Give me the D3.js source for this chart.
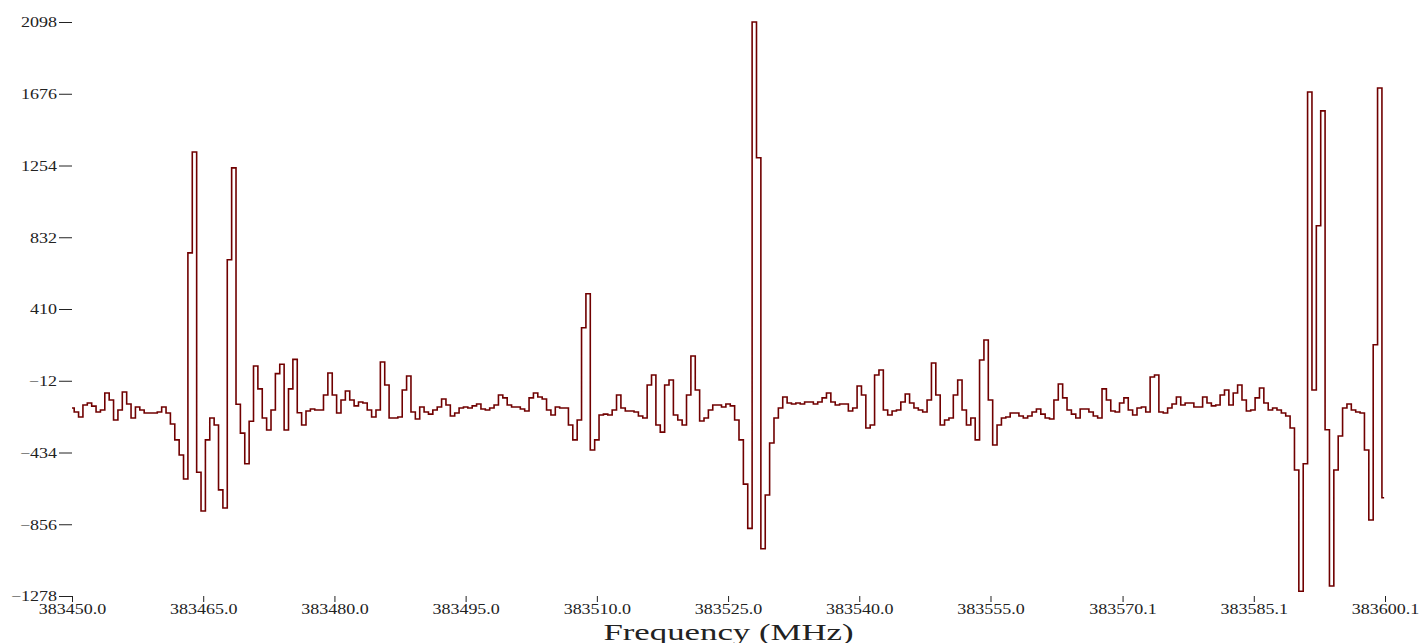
<!DOCTYPE html>
<html>
<head>
<meta charset="utf-8">
<script src="https://cdn.jsdelivr.net/npm/d3@7"></script>
<style>
  body { margin: 0; background: #fff; }
  svg text { font-family: "Liberation Serif", "Times New Roman", serif; fill: #222; }
</style>
</head>
<body>
<div id="chart"></div>
<script>
// spectrum samples, 0.5 MHz apart starting at freqStart
const freqStart = 383450.0;
const freqStep = 0.5;
const amplitudes = [
  -172, -196, -225, -155, -143, -161, -196, -184, -84, -125,
  -243, -184, -78, -149, -231, -166, -184, -202, -202, -202,
  -196, -166, -202, -266, -360, -449, -590, 740, 1333, -550,
  -778, -360, -231, -272, -654, -760, 700, 1240, -150, -320,
  -500, -250, 75, -60, -231, -302, -184, 30, 85, -302,
  -60, 114, -200, -272, -190, -178, -184, -184, -96, 34,
  -96, -202, -125, -72, -125, -160, -137, -143, -184, -225,
  -184, 98, -37, -231, -231, -225, -66, 16, -196, -237,
  -166, -196, -208, -184, -166, -119, -155, -219, -202, -172,
  -166, -172, -160, -149, -178, -184, -172, -155, -96, -113,
  -155, -166, -166, -178, -190, -113, -84, -108, -119, -184,
  -213, -166, -172, -172, -272, -360, -243, 300, 500, -419,
  -360, -213, -208, -213, -184, -96, -172, -190, -190, -196,
  -219, -231, -37, 22, -272, -314, -37, -8, -213, -243,
  -272, -96, 134, -66, -249, -231, -184, -155, -155, -166,
  -149, -160, -243, -360, -620, -880, 2098, 1300, -1000, -684,
  -378, -231, -172, -108, -143, -149, -143, -149, -137, -137,
  -149, -137, -113, -84, -137, -155, -149, -149, -190, -172,
  -43, -96, -290, -272, 22, 51, -184, -213, -190, -184,
  -137, -90, -143, -172, -184, -196, -125, 92, -96, -272,
  -243, -231, -96, -8, -184, -272, -231, -360, 110, 228,
  -125, -390, -272, -231, -225, -202, -202, -219, -231, -219,
  -196, -178, -208, -231, -237, -125, -31, -113, -184, -208,
  -231, -178, -178, -196, -219, -231, -60, -125, -190, -196,
  -143, -113, -184, -213, -172, -166, -196, 10, 22, -196,
  -202, -172, -149, -108, -155, -143, -143, -166, -166, -108,
  -143, -160, -155, -96, -66, -155, -84, -37, -125, -190,
  -184, -113, -55, -143, -184, -172, -184, -202, -219, -290,
  -537, -1250, -500, 1686, -66, 900, 1575, -300, -1219, -537,
  -337, -172, -149, -184, -196, -202, -419, -831, 200, 1710,
  -700,
];

const yTickValues = [-1278, -856, -434, -12, 410, 832, 1254, 1676, 2098];
const xTickValues = [383450.0, 383465.0, 383480.0, 383495.0, 383510.0,
  383525.0, 383540.0, 383555.0, 383570.1, 383585.1, 383600.1];
const xAxisTitle = 'Frequency (MHz)';

class SpectrumChart {
  constructor(containerId, values) {
    this.containerId = containerId;
    this.data = values.map((v, i) => ({
      freq: freqStart + i * freqStep,
      value: v,
    }));

    this.width = 1422;
    this.height = 643;
    this.margin = {
      top: 22, right: 37, bottom: 47, left: 72,
    };

    this.init();
    this.update();
  }

  init() {
    const { margin } = this;

    this.svg = d3.select(`#${this.containerId}`)
      .append('svg')
      .attr('width', this.width)
      .attr('height', this.height);

    this.x = d3.scaleLinear()
      .domain([xTickValues[0], xTickValues[xTickValues.length - 1]])
      .range([margin.left, this.width - margin.right]);

    this.y = d3.scaleLinear()
      .domain([yTickValues[0], yTickValues[yTickValues.length - 1]])
      .range([this.height - margin.bottom, margin.top]);

    this.line = d3.line()
      .x((d) => this.x(d.freq))
      .y((d) => this.y(d.value))
      .curve(d3.curveStep);
  }

  update() {
    const { margin } = this;
    const stretch = 1.2;

    const yAxis = this.svg.append('g')
      .attr('transform', `translate(${margin.left},0)`)
      .call(d3.axisLeft(this.y)
        .tickValues(yTickValues)
        .tickSize(13)
        .tickPadding(2)
        .tickFormat(d3.format('d')));
    yAxis.select('.domain').remove();
    yAxis.selectAll('line').attr('stroke', '#222');
    yAxis.selectAll('text')
      .attr('x', 0)
      .attr('transform', `translate(-15,0) scale(${stretch},1)`)
      .style('font-size', '15px');

    const xAxis = this.svg.append('g')
      .attr('transform', `translate(0,${this.height - margin.bottom})`)
      .call(d3.axisBottom(this.x)
        .tickValues(xTickValues)
        .tickSize(6)
        .tickPadding(1)
        .tickFormat(d3.format('.1f')));
    xAxis.select('.domain').remove();
    xAxis.selectAll('line').attr('stroke', '#222');
    xAxis.selectAll('text')
      .attr('transform', `scale(${stretch},1)`)
      .style('font-size', '15px');

    this.svg.append('text')
      .attr('text-anchor', 'middle')
      .attr('transform', `translate(${(this.x.range()[0] + this.x.range()[1]) / 2},640) scale(1.45,1)`)
      .style('font-size', '24px')
      .text(xAxisTitle);

    this.svg.append('path')
      .datum(this.data)
      .attr('fill', 'none')
      .attr('stroke', '#700000')
      .attr('stroke-width', 1.6)
      .attr('d', this.line);
  }
}

new SpectrumChart('chart', amplitudes);
</script>
</body>
</html>
